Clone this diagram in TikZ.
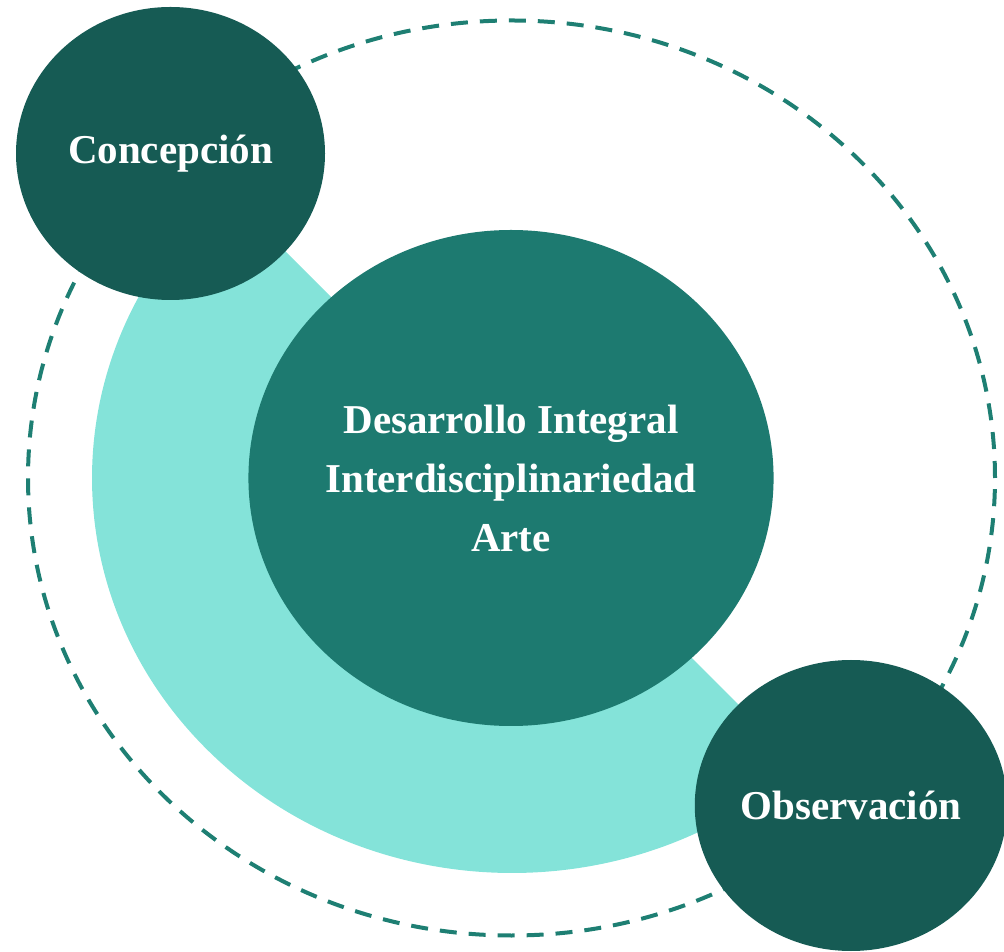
\documentclass[tikz,border=0pt]{standalone}
\usepackage{fontspec}
\setmainfont{Liberation Serif}
\usetikzlibrary{shapes.geometric}
\definecolor{midteal}{HTML}{1D7A70}
\definecolor{darkteal}{HTML}{165B54}
\definecolor{lightteal}{HTML}{84E3D9}
\definecolor{dashteal}{HTML}{1E7F73}
\tikzset{
  bubble/.style={ellipse, inner sep=0pt, text=white, font=\fontsize{41}{59}\selectfont\bfseries, align=center},
  guide/.style={draw=dashteal, line width=4pt, dash pattern=on 17pt off 12pt}
}
\begin{document}
\begin{tikzpicture}[x=1pt,y=1pt]
\useasboundingbox (0,0) rectangle (1004,951);
% dashed orbit
\draw[guide] (511.5,473) ellipse [x radius=483.5pt, y radius=457.5pt];
% light half ring
\fill[lightteal] (512,473) -- ++(133.24:{420pt} and {395pt}) arc[start angle=133.24, end angle=313.24, x radius=420pt, y radius=395pt] -- cycle;
% central circle
\node[bubble, fill=midteal, minimum width=525pt, minimum height=496pt] (center) at (511,473)
  {Desarrollo Integral\\Interdisciplinariedad\\Arte};
% small circles
\node[bubble, fill=darkteal, minimum width=309pt, minimum height=293pt] (conc) at (170.5,797.5) {Concepción};
\node[bubble, fill=darkteal, minimum width=307pt, minimum height=291pt] (obs) at (851,145.5) {Observación};
\end{tikzpicture}
\end{document}
